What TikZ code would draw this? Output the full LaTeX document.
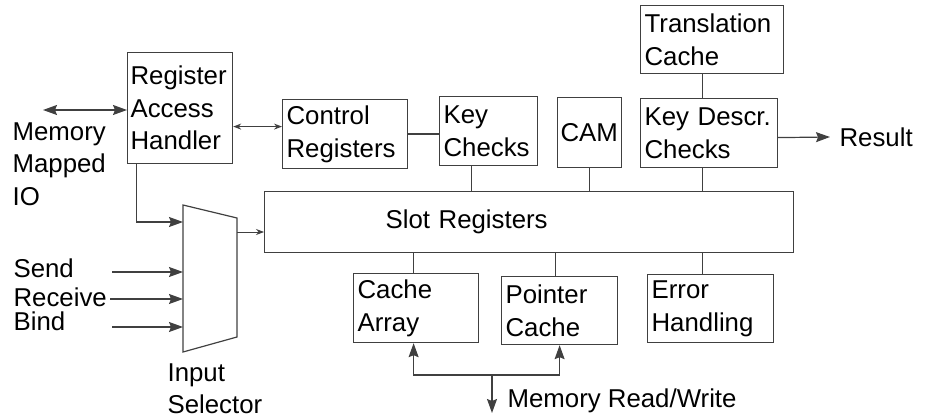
\documentclass[tikz,border=0pt]{standalone}
\usepackage{fontspec}
\setmainfont{Liberation Sans}
\usetikzlibrary{arrows.meta}

\begin{document}
\begin{tikzpicture}[
    x=1pt, y=-1pt,
    font=\fontsize{25.8}{32.5}\selectfont,
    line width=1.2pt,
    block/.style 2 args={%
      draw=black!75,
      anchor=north west,
      align=left,
      inner xsep=4pt,
      inner ysep=0pt,
      text width=#1,
      minimum height=#2,
    },
    wire/.style={draw=black!75},
    arr/.style={wire, -{Stealth[length=14pt,width=10pt,inset=2pt]}},
    darr/.style={wire, {Stealth[length=14pt,width=10pt,inset=2pt]}-{Stealth[length=14pt,width=10pt,inset=2pt]}},
    sdarr/.style={wire, {Stealth[length=8pt,width=6pt]}-{Stealth[length=8pt,width=6pt]}},
    sarr/.style={wire, line width=0.8pt, -{Stealth[length=8pt,width=6pt]}},
    lbl/.style={inner sep=0pt, align=left},
  ]
    \useasboundingbox (0,0) rectangle (925,419);

    \node [block={99pt}{111pt}, inner xsep=3pt] (rah) at (127,52) {Register\\Access\\Handler};
    \node [block={117pt}{69pt}] (ctrl) at (282,99) {Control\\Registers};
    \node [block={90pt}{69pt}] (keychk) at (439,96) {Key\\Checks};
    \node [block={58pt}{70pt}, inner xsep=3pt] (cam) at (557,97) {CAM};
    \node [block={129pt}{69pt}] (kdc) at (640,98) {Key Descr.\\Checks};
    \node [block={135pt}{68pt}] (trans) at (640,5) {Translation\\Cache};
    \node [block={521pt}{61pt}] (slot) at (264,191) {\hspace*{117pt}Slot Registers};
    \node [block={117pt}{69pt}] (carr) at (353,273) {Cache\\Array};
    \node [block={108pt}{68pt}] (pcache) at (501,276) {Pointer\\Cache};
    \node [block={118pt}{68pt}] (err) at (647,274) {Error\\Handling};

    % input selector
    \coordinate (mux nw) at (183,205);
    \coordinate (mux ne) at (237,218);
    \coordinate (mux se) at (237,337);
    \coordinate (mux sw) at (183,352);
    \coordinate (mux in) at (183,222);
    \coordinate (mux out) at (237,232);
    \draw [wire] (mux nw) -- (mux ne) -- (mux se) -- (mux sw) -- cycle;

    \coordinate (mmio) at (43,110);
    \coordinate (send) at (112,272);
    \coordinate (recv) at (110,299);
    \coordinate (bind) at (112,327);
    \coordinate (result) at (830,137);
    \coordinate (memjoin) at (492,375);
    \coordinate (memrw) at (492,413);
    \coordinate (rc) at ([yshift=7.5pt]ctrl.west);

    \draw [darr] (mmio) -- (mmio -| rah.west);
    \draw [sdarr] (rc -| rah.east) -- (rc);
    \draw [wire] (ctrl.east) -- (ctrl.east -| keychk.west);
    \draw [arr] ([xshift=-43.5pt]rah.south) |- (mux in);
    \draw [arr] (send) -- (send -| mux nw);
    \draw [arr] (recv) -- (recv -| mux nw);
    \draw [arr] (bind) -- (bind -| mux nw);
    \draw [sarr] (mux out) -- (mux out -| slot.west);

    \draw [wire] ([xshift=-17pt]keychk.south) -- ([xshift=-17pt]keychk.south |- slot.north);
    \draw [wire] (cam.south) -- (cam.south |- slot.north);
    \draw [wire] ([xshift=-6.5pt]kdc.south) -- ([xshift=-6.5pt]kdc.south |- slot.north);
    \draw [wire] ([xshift=-6.5pt]kdc.north) -- ([xshift=-6.5pt]kdc.north |- trans.south);
    \draw [arr] ([yshift=-4.5pt]kdc.east) -- (result);

    \draw [wire] ([xshift=-2.5pt]carr.north) -- ([xshift=-2.5pt]carr.north |- slot.south);
    \draw [wire] ([xshift=-4pt]pcache.north) -- ([xshift=-4pt]pcache.north |- slot.south);
    \draw [wire] ([xshift=-8pt]err.north) -- ([xshift=-8pt]err.north |- slot.south);
    \draw [arr] (memjoin) -| ([xshift=-2.5pt]carr.south);
    \draw [arr] (memjoin) -| (pcache.south);
    \draw [arr] (memjoin) -- (memrw);

    \node [lbl, anchor=north west] (mmiotext) at (12,122) {Memory\\Mapped\\IO};
    \node [lbl, anchor=base west] (sendtext) at (13,277) {Send};
    \node [lbl, anchor=base west] (recvtext) at (13,306) {Receive};
    \node [lbl, anchor=base west] (bindtext) at (13,330) {Bind};
    \node [lbl, anchor=north west] (muxtext) at (167,363) {Input\\Selector};
    \node [lbl, anchor=base west] (resulttext) at (839,147) {Result};
    \node [lbl, anchor=base west] (memrwtext) at (507,407) {Memory Read/Write};

\end{tikzpicture}
\end{document}
